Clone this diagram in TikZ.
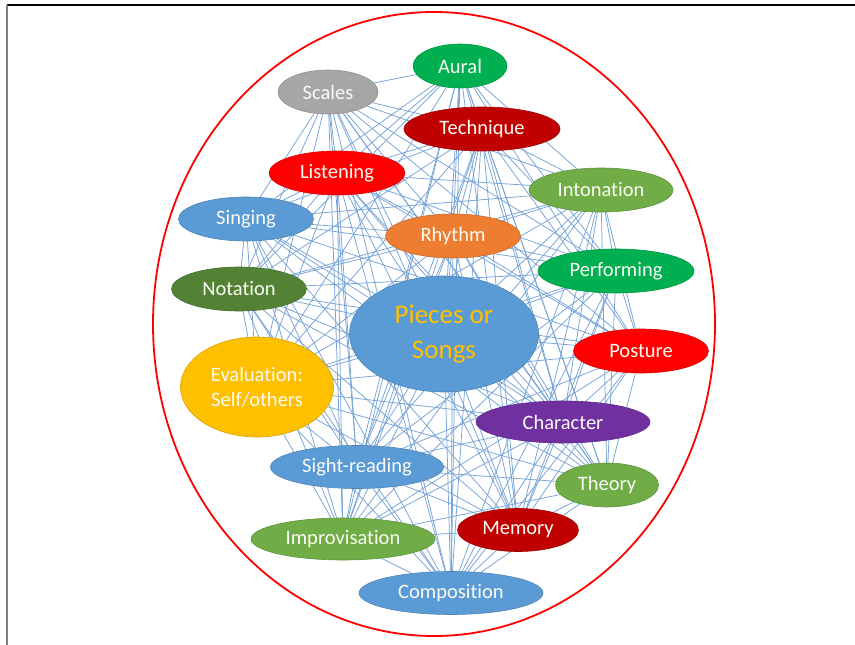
\documentclass[tikz,border=0pt]{standalone}
\usepackage{fontspec}
\setmainfont{Carlito}[Ligatures=NoCommon]
\usetikzlibrary{shapes.geometric,backgrounds}

\definecolor{cblue}{RGB}{91,155,213}
\definecolor{cgreen}{RGB}{0,176,80}
\definecolor{colive}{RGB}{112,173,71}
\definecolor{cdkgreen}{RGB}{84,130,53}
\definecolor{cred}{RGB}{255,0,0}
\definecolor{cdkred}{RGB}{192,0,0}
\definecolor{cgray}{RGB}{166,166,166}
\definecolor{corange}{RGB}{237,125,49}
\definecolor{cgold}{RGB}{255,192,0}
\definecolor{cpurple}{RGB}{112,48,160}
\definecolor{clink}{RGB}{118,163,216}
\definecolor{ctext}{RGB}{250,250,245}

\tikzset{
  topic/.style={ellipse, inner sep=0pt, minimum height=44, fill=#1,
    draw=#1!85!black, line width=0.6pt, text=ctext,
    font=\fontsize{20.5}{25}\selectfont, align=center},
  link/.style={draw=clink, line width=0.75pt},
  hull/.style={draw=red, line width=1.8pt},
}

\begin{document}
\begin{tikzpicture}[x=1pt,y=-1pt]
\useasboundingbox (0,0) rectangle (855,645);

% page frame
\draw[black, line width=1.2pt] (7,5) -- (855,5);
\draw[black!50, line width=2pt] (7,5) -- (7,645);

% enclosing ring
\draw[hull] (434,324) ellipse [x radius=281, y radius=312];

% topics
\node[topic=cgreen,   minimum width=94]  (aural)         at (460,66)  {Aural};
\node[topic=cgray,    minimum width=100] (scales)        at (328,92)  {Scales};
\node[topic=cdkred,   minimum width=156] (technique)     at (482,129) {Technique};
\node[topic=cred,     minimum width=136] (listening)     at (337,173) {Listening};
\node[topic=colive,   minimum width=144] (intonation)    at (601,190) {Intonation};
\node[topic=cblue,    minimum width=135] (singing)       at (246,219) {Singing};
\node[topic=corange,  minimum width=135] (rhythm)        at (453,236) {Rhythm};
\node[topic=cgreen,   minimum width=156] (performing)    at (616,271) {Performing};
\node[topic=cdkgreen, minimum width=135] (notation)      at (239,289) {Notation};
\node[topic=cblue,    minimum width=189, minimum height=116, text=cgold,
      font=\fontsize{27}{35}\selectfont] (pieces) at (444,334) {Pieces or\\Songs};
\node[topic=cred,     minimum width=135] (posture)       at (641,351) {Posture};
\node[topic=cgold,    minimum width=153, minimum height=100] (evaluation) at (257,387) {Evaluation:\\Self/others};
\node[topic=cpurple,  minimum width=174, minimum height=42] (character) at (563,422) {Character};
\node[topic=cblue,    minimum width=173, minimum height=43] (sightreading) at (357,467) {Sight-reading};
\node[topic=colive,   minimum width=103] (theory)        at (607,485) {Theory};
\node[topic=cdkred,   minimum width=121, minimum height=43] (memory) at (518,530) {Memory};
\node[topic=colive,   minimum width=184, minimum height=42] (improvisation) at (343,539) {Improvisation};
\node[topic=cblue,    minimum width=184, minimum height=43] (composition) at (451,593) {Composition};

% web of links between every pair of topics
\begin{scope}[on background layer]
  \fill[white] (0,0) rectangle (855,645);
  \foreach \a [count=\i] in {aural,scales,technique,listening,intonation,singing,rhythm,performing,notation,pieces,posture,evaluation,character,sightreading,theory,memory,improvisation,composition}{
    \foreach \b [count=\j] in {aural,scales,technique,listening,intonation,singing,rhythm,performing,notation,pieces,posture,evaluation,character,sightreading,theory,memory,improvisation,composition}{
      \ifnum\j>\i \draw[link] (\a) -- (\b); \fi
    }
  }
\end{scope}
\end{tikzpicture}
\end{document}
